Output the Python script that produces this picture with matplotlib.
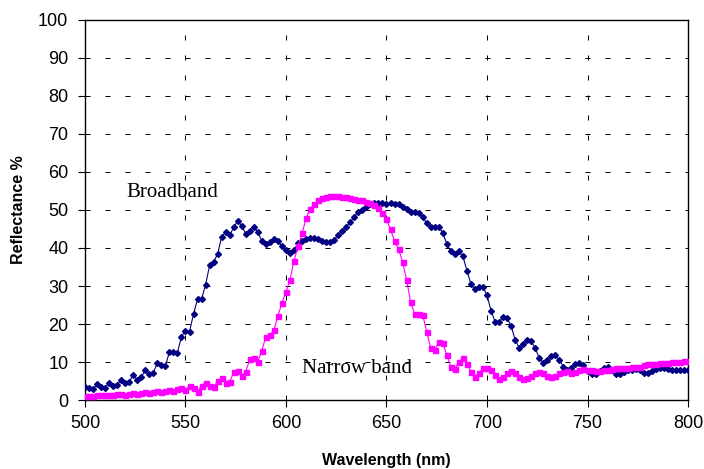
import matplotlib
matplotlib.use("Agg")
import matplotlib.pyplot as plt
import numpy as np

# wavelength grid, 2 nm steps
wavelength = np.arange(500, 801, 2)

broadband = [
	3.5, 3.1, 2.8, 4.1, 3.5, 3.2, 4.6, 3.8, 3.9, 5.3,
	4.4, 4.8, 6.6, 5.3, 6.0, 7.9, 6.8, 7.2, 9.8, 9.2,
	8.9, 12.7, 12.7, 12.5, 16.7, 18.2, 18.0, 22.6, 26.6, 26.6,
	30.3, 35.5, 36.4, 38.4, 43.0, 44.1, 43.4, 45.4, 47.2, 45.8,
	43.7, 44.5, 45.6, 44.1, 41.9, 41.0, 41.5, 42.3, 41.8, 40.5,
	39.4, 38.8, 39.5, 41.2, 41.9, 42.3, 42.5, 42.5, 42.3, 41.9,
	41.7, 41.6, 42.2, 43.4, 44.5, 45.6, 46.8, 48.2, 49.4, 50.0,
	50.9, 51.5, 51.8, 51.9, 51.8, 51.7, 51.8, 51.7, 51.5, 50.9,
	50.2, 49.6, 49.6, 49.3, 48.2, 46.5, 45.6, 45.6, 45.6, 43.9,
	41.1, 39.1, 38.4, 39.1, 37.9, 34.0, 30.5, 29.1, 29.8, 29.8,
	27.6, 23.5, 20.6, 20.4, 21.9, 21.5, 19.5, 15.8, 13.8, 14.7,
	15.8, 15.4, 13.6, 11.0, 9.8, 10.5, 11.6, 11.8, 10.5, 8.8,
	8.0, 8.3, 9.4, 9.8, 9.2, 7.6, 6.8, 6.9, 7.6, 8.4,
	8.6, 7.8, 6.8, 6.8, 7.3, 7.8, 8.0, 8.1, 7.8, 7.2,
	7.1, 7.6, 8.2, 8.5, 8.4, 8.1, 7.9, 7.9, 7.8, 7.8,
	7.8,
]

narrowband = [
	1.0, 1.1, 1.0, 1.2, 1.3, 1.2, 1.4, 1.3, 1.5, 1.6,
	1.4, 1.6, 1.8, 1.6, 1.9, 2.1, 1.8, 2.2, 2.4, 2.0,
	2.5, 2.6, 2.3, 3.0, 3.1, 2.6, 3.8, 3.1, 2.2, 3.8,
	4.6, 3.8, 3.3, 5.1, 5.7, 4.4, 4.8, 7.3, 7.6, 6.3,
	7.5, 10.7, 11.0, 10.1, 13.0, 16.7, 17.1, 18.4, 22.1, 25.6,
	28.4, 31.7, 36.7, 40.5, 43.9, 47.8, 50.3, 51.6, 52.6, 53.2,
	53.5, 53.7, 53.7, 53.7, 53.5, 53.3, 53.1, 52.9, 52.7, 52.5,
	52.2, 51.8, 51.2, 50.6, 49.2, 47.5, 44.9, 41.8, 39.7, 36.4,
	31.6, 25.8, 22.6, 22.6, 22.4, 18.0, 13.6, 13.2, 15.3, 15.1,
	11.8, 8.8, 8.1, 10.1, 11.0, 9.6, 7.5, 6.1, 7.0, 8.4,
	8.5, 7.9, 6.6, 5.4, 6.0, 7.0, 7.7, 7.2, 6.0, 5.4,
	5.7, 6.3, 7.2, 7.4, 7.0, 6.3, 6.0, 6.3, 7.0, 7.4,
	7.6, 7.2, 7.4, 7.9, 8.1, 7.9, 7.8, 7.7, 7.7, 7.8,
	8.0, 8.2, 8.3, 8.3, 8.4, 8.5, 8.6, 8.6, 8.8, 9.2,
	9.5, 9.6, 9.6, 9.7, 9.7, 9.8, 9.9, 10.0, 10.1, 10.2,
	10.2,
]

x_ticks = [500, 550, 600, 650, 700, 750, 800]
y_ticks = [0, 10, 20, 30, 40, 50, 60, 70, 80, 90, 100]

plt.rcParams['font.family'] = ['Liberation Sans', 'DejaVu Sans']

fig = plt.figure(figsize=(7.04, 4.69), dpi=100)
ax = fig.add_axes([0.1207, 0.1471, 0.8566, 0.8103])

ax.plot(wavelength, broadband, color='#000080', marker='D', markersize=3.0,
	linewidth=0.8, zorder=3)
ax.plot(wavelength, narrowband, color='#FF00FF', marker='s', markersize=3.6,
	linewidth=0.8, zorder=4)

ax.set_xlim(500, 800)
ax.set_ylim(0, 100)
ax.set_xticks(x_ticks)
ax.set_yticks(y_ticks)
ax.tick_params(direction='out', length=5, width=0.8, labelsize=13, color='black')
ax.tick_params(axis='y', pad=7)
ax.tick_params(axis='x', pad=6)

ax.grid(True, color='black', linewidth=0.72, linestyle=(0, (5, 15)))
ax.set_axisbelow(True)
for s in ax.spines.values():
	s.set_linewidth(1.0)
	s.set_color('black')

ax.set_xlabel('Wavelength (nm)', fontsize=11.5, fontweight='bold', labelpad=15)
ax.set_ylabel('Reflectance %', fontsize=11.5, fontweight='bold', labelpad=9)

ax.text(520.5, 54.5, 'Broadband', family='Liberation Serif', fontsize=15,
	va='center', ha='left')
ax.text(608, 8.2, 'Narrow band', family='Liberation Serif', fontsize=15,
	va='center', ha='left')

plt.savefig('out.png', dpi=100)
